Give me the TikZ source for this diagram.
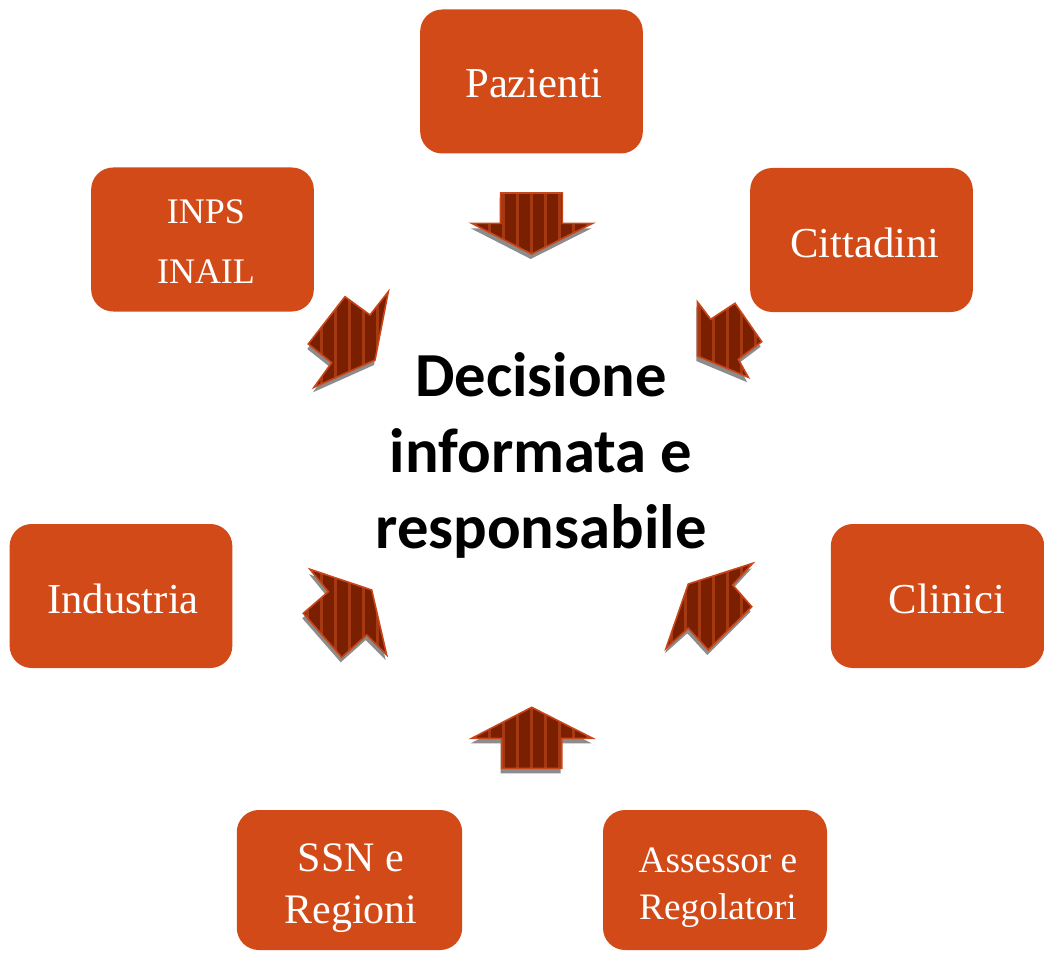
\documentclass[tikz,border=0pt]{standalone}
\usepackage{fontspec}
\setmainfont{Liberation Serif}
\newfontfamily\titlefont{Carlito}
\usetikzlibrary{positioning}

\definecolor{boxred}{HTML}{D24A18}
\definecolor{arrowbrown}{HTML}{7A2000}
\definecolor{stripebrown}{HTML}{A53A12}
\definecolor{arrowedge}{HTML}{C9461A}
\definecolor{shadowgray}{HTML}{8C8C8C}

\tikzset{
  actor/.style={fill=boxred, rounded corners=16.5pt, inner sep=0pt,
    minimum width=167pt, minimum height=108pt},
  actortext/.style={text=white, inner sep=0pt, align=center},
  arrowshadow/.style={fill=shadowgray},
  arrowbody/.style={fill=arrowbrown},
  stripe/.style={draw=stripebrown, line width=2.2pt},
  arrowline/.style={draw=arrowedge, line width=1.2pt, line join=miter}
}

% striped arrow with drop shadow, #1 = closed polygon
\newcommand{\stripearrow}[1]{
  \fill[arrowshadow, shift={(-1,5)}] #1;
  \begin{scope}
    \clip #1;
    \fill[arrowbody] (280,150) rectangle (790,800);
    \foreach \k in {-18,...,18}
      \draw[stripe] ({531.7+14*\k},150) -- ({531.7+14*\k},800);
  \end{scope}
  \draw[arrowline] #1;
}

\begin{document}
\begin{tikzpicture}[x={(0.75pt,0)}, y={(0,-0.75pt)}]
    \useasboundingbox (0,0) rectangle (1044,952);

    % Boxes
    \node[actor] (paz) at (531.5,81.5) {};
    \node[actor] (inps) at (202.5,239.5) {};
    \node[actor] (citt) at (861.5,240) {};
    \node[actor] (ind) at (121,596) {};
    \node[actor, minimum width=160pt] (clin) at (937.5,596) {};
    \node[actor, minimum width=169pt, minimum height=105pt] (ssn) at (349.5,880) {};
    \node[actor, minimum width=168pt, minimum height=105pt] (ass) at (715,880) {};

    % Box labels
    \node[actortext, font=\fontsize{32}{40}\selectfont] (pazt) at (534,84) {Pazienti};
    \node[actortext, font=\fontsize{27}{45}\selectfont] (inpst) at (206,242) {INPS\\INAIL};
    \node[actortext, font=\fontsize{32}{40}\selectfont] (cittt) at (865,242.5) {Cittadini};
    \node[actortext, font=\fontsize{32}{40}\selectfont] (indt) at (123,598.5) {Industria};
    \node[actortext, font=\fontsize{32}{40}\selectfont] (clint) at (947,598.5) {Clinici};
    \node[actortext, font=\fontsize{31.5}{39}\selectfont] (ssnt) at (351,888) {SSN e\\Regioni};
    \node[actortext, font=\fontsize{28}{35}\selectfont] (asst) at (718,888) {Assessor e\\Regolatori};

    % Centre
    \node[font=\titlefont\bfseries\fontsize{47}{57}\selectfont, align=center] (dec) at (541,455)
      {Decisione\\informata e\\responsabile};

    % Arrows
    \stripearrow{(500.7,193) -- (562.3,193) -- (562.3,223.3) -- (592.7,223.3) -- (531.7,254) -- (471.7,223.3) -- (500.7,223.3) -- cycle}
    \stripearrow{(531.7,707.3) -- (592.7,738.3) -- (561.7,738.3) -- (561.7,768.3) -- (501.7,768.3) -- (501.7,738.3) -- (471.7,738.3) -- cycle}
    \stripearrow{(345,296.7) -- (370,315) -- (388.3,291.7) -- (375,360) -- (314,387.3) -- (331.7,362.7) -- (308.3,344) -- cycle}
    \stripearrow{(697.3,301.7) -- (710.7,319.3) -- (735,303.3) -- (761.7,341.7) -- (738.3,359.3) -- (748.3,377.3) -- (697.3,356) -- cycle}
    \stripearrow{(310,569.3) -- (371.7,590) -- (386.7,655) -- (366.7,635) -- (341.7,657.3) -- (303.3,613.3) -- (328.3,591.7) -- cycle}
    \stripearrow{(666,648.3) -- (688.3,584) -- (752.7,563.3) -- (732.7,585) -- (751.7,606.7) -- (708.3,650) -- (688.3,628.3) -- cycle}
\end{tikzpicture}
\end{document}
